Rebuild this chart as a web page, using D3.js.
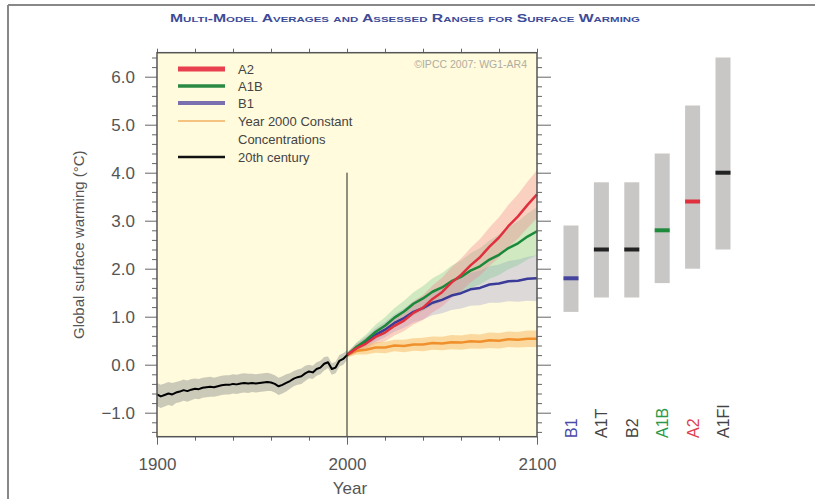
<!DOCTYPE html>
<html>
<head>
<meta charset="utf-8">
<script src="https://cdn.jsdelivr.net/npm/d3@7"></script>
<style>
  body { margin: 0; background: #fff; }
  text { font-family: "Liberation Sans", Arial, sans-serif; }
</style>
</head>
<body>
<div class="canva"></div>
<script>
// ---- data ----
const centuryYears = d3.range(1900, 2001, 2);
const centuryMean = [-0.62, -0.66, -0.63, -0.60, -0.62, -0.58, -0.56, -0.53, -0.55, -0.52,
  -0.50, -0.51, -0.48, -0.47, -0.46, -0.47, -0.45, -0.43, -0.42, -0.42,
  -0.40, -0.41, -0.39, -0.38, -0.39, -0.38, -0.39, -0.38, -0.37, -0.36,
  -0.37, -0.40, -0.45, -0.42, -0.38, -0.34, -0.29, -0.26, -0.24, -0.18,
  -0.14, -0.16, -0.09, -0.06, 0.02, 0.05, -0.09, -0.06, 0.08, 0.12, 0.20];
const centurySpread = [0.24, 0.22, 0.21, 0.20, 0.20, 0.19, 0.18, 0.16, 0.14, 0.12, 0.10];

const scenYears = d3.range(2000, 2101, 5);
const a2 = [0.20, 0.34, 0.44, 0.58, 0.67, 0.81, 0.92, 1.08, 1.19, 1.37, 1.51, 1.71, 1.87, 2.07, 2.24, 2.46, 2.65, 2.89, 3.09, 3.33, 3.55];
const a1b = [0.20, 0.37, 0.51, 0.68, 0.81, 0.98, 1.11, 1.27, 1.38, 1.52, 1.61, 1.74, 1.83, 1.96, 2.05, 2.19, 2.29, 2.43, 2.53, 2.67, 2.78];
const b1 = [0.20, 0.36, 0.47, 0.62, 0.73, 0.87, 0.97, 1.10, 1.18, 1.29, 1.35, 1.44, 1.49, 1.57, 1.60, 1.67, 1.69, 1.74, 1.75, 1.79, 1.80];
const constant = [0.20, 0.29, 0.31, 0.36, 0.36, 0.40, 0.39, 0.42, 0.42, 0.45, 0.44, 0.47, 0.46, 0.49, 0.48, 0.51, 0.50, 0.53, 0.52, 0.54, 0.54];
const scenSpread = [0.05, 0.09, 0.12, 0.15, 0.18, 0.20, 0.22, 0.24, 0.26, 0.28, 0.30, 0.32, 0.34, 0.36, 0.38, 0.40, 0.42, 0.44, 0.46, 0.48, 0.50];
const b1Spread = [0.05, 0.09, 0.12, 0.14, 0.16, 0.18, 0.20, 0.22, 0.24, 0.26, 0.28, 0.30, 0.32, 0.34, 0.36, 0.38, 0.40, 0.42, 0.44, 0.46, 0.48];
const constSpread = [0.05, 0.08, 0.10, 0.11, 0.12, 0.12, 0.13, 0.13, 0.14, 0.14, 0.14, 0.15, 0.15, 0.15, 0.15, 0.16, 0.16, 0.16, 0.16, 0.17, 0.17];

const rangeCats = ["B1", "A1T", "B2", "A1B", "A2", "A1FI"];
const rangeBest = [1.8, 2.4, 2.4, 2.8, 3.4, 4.0];
const rangeLow = [1.1, 1.4, 1.4, 1.7, 2.0, 2.4];
const rangeHigh = [2.9, 3.8, 3.8, 4.4, 5.4, 6.4];
const rangeColors = ["#44449c", "#222", "#222", "#1f8a3c", "#e0303e", "#222"];
const rangeLabelColors = ["#4a4aa8", "#444", "#444", "#2a9a4a", "#e0404e", "#444"];

const yMajor = [-1, 0, 1, 2, 3, 4, 5, 6];
const xMajor = [1900, 2000, 2100];

// ---- layout ----
const W = 815, H = 499;
const svg = d3.select(".canva").append("svg").attr("width", W).attr("height", H);

const x = d3.scaleLinear().domain([1900, 2100]).range([157, 537]);
const y = d3.scaleLinear().domain([-1.5, 6.5]).range([436.7, 52.7]);
const xr = d3.scalePoint().domain(rangeCats).range([571, 723]);

// outer frame lines
svg.append("line").attr("x1", 8).attr("x2", W).attr("y1", 5).attr("y2", 5).attr("stroke", "#888").attr("stroke-width", 2);
svg.append("line").attr("x1", 8).attr("x2", 8).attr("y1", 5).attr("y2", H).attr("stroke", "#888").attr("stroke-width", 2);

// title
svg.append("text").attr("x", 170).attr("y", 22)
  .attr("textLength", 470).attr("lengthAdjust", "spacingAndGlyphs")
  .style("font-variant", "small-caps").style("font-weight", "bold")
  .attr("font-size", 11).attr("fill", "#3e4c98")
  .text("Multi-Model Averages and Assessed Ranges for Surface Warming");

// plot background
svg.append("rect").attr("x", x(1900)).attr("y", y(6.5))
  .attr("width", x(2100) - x(1900)).attr("height", y(-1.5) - y(6.5))
  .attr("fill", "#fffbdc");

const plot = svg.append("g");

// bands
function band(years, mean, spread, color, opacity) {
  const pts = years.map((yr, i) => ({ yr, m: mean[i], s: spread[i] }));
  plot.append("path").datum(pts)
    .attr("d", d3.area().x(d => x(d.yr)).y0(d => y(d.m - d.s)).y1(d => y(d.m + d.s)))
    .attr("fill", color).attr("fill-opacity", opacity);
}
function line(years, mean, color, w) {
  plot.append("path").datum(years.map((yr, i) => ({ yr, m: mean[i] })))
    .attr("d", d3.line().x(d => x(d.yr)).y(d => y(d.m)))
    .attr("fill", "none").attr("stroke", color).attr("stroke-width", w)
    .attr("stroke-linejoin", "round");
}

band(centuryYears, centuryMean, centuryYears.map(yr => centurySpread[Math.floor((yr - 1900) / 10)]), "#8c8c8c", 0.45);
band(scenYears, b1, b1Spread, "#9a9ad2", 0.35);
band(scenYears, a1b, scenSpread, "#7cc890", 0.35);
band(scenYears, a2, scenSpread, "#f08090", 0.35);
band(scenYears, constant, constSpread, "#f8b860", 0.5);

line(scenYears, constant, "#f0902c", 2.5);
line(scenYears, b1, "#3a3a98", 2.5);
line(scenYears, a1b, "#1a8a3a", 2.5);
line(scenYears, a2, "#e0303e", 2.5);
line(centuryYears, centuryMean, "#000", 2);

// 2000 marker line
svg.append("line").attr("x1", x(2000)).attr("x2", x(2000))
  .attr("y1", y(4.0)).attr("y2", y(-1.5)).attr("stroke", "#222").attr("stroke-width", 1);

// axes
const yMinor = d3.range(-1.4, 6.5, 0.2).map(v => +v.toFixed(1)).filter(v => !yMajor.includes(v));
const xMinor = d3.range(1920, 2100, 20).filter(v => v !== 2000);

function styleAxis(g) {
  g.select(".domain").remove();
  g.selectAll("line").attr("stroke", "#666");
  g.selectAll("text").attr("fill", "#555").style("font-family", "'Liberation Sans', Arial, sans-serif");
}

svg.append("g").attr("transform", `translate(${x(1900)},0)`)
  .call(d3.axisLeft(y).tickValues(yMajor).tickSize(12).tickPadding(10).tickFormat(d3.format(".1f")))
  .call(styleAxis).selectAll("text").attr("font-size", 17);
svg.append("g").attr("transform", `translate(${x(1900)},0)`)
  .call(d3.axisLeft(y).tickValues(yMinor).tickSize(5).tickFormat(""))
  .call(styleAxis);
svg.append("g").attr("transform", `translate(${x(2100)},0)`)
  .call(d3.axisRight(y).tickValues(yMajor).tickSize(14).tickFormat(""))
  .call(styleAxis);
svg.append("g").attr("transform", `translate(${x(2100)},0)`)
  .call(d3.axisRight(y).tickValues(yMinor).tickSize(5).tickFormat(""))
  .call(styleAxis);

svg.append("g").attr("transform", `translate(0,${y(-1.5)})`)
  .call(d3.axisBottom(x).tickValues(xMajor).tickSize(8).tickPadding(13).tickFormat(d3.format("d")))
  .call(styleAxis).selectAll("text").attr("font-size", 17);
svg.append("g").attr("transform", `translate(0,${y(-1.5)})`)
  .call(d3.axisBottom(x).tickValues(xMinor).tickSize(4).tickFormat(""))
  .call(styleAxis);
svg.append("g").attr("transform", `translate(0,${y(6.5)})`)
  .call(d3.axisTop(x).tickValues(xMinor.concat(xMajor)).tickSize(4).tickFormat(""))
  .call(styleAxis);

// plot frame
svg.append("rect").attr("x", x(1900)).attr("y", y(6.5))
  .attr("width", x(2100) - x(1900)).attr("height", y(-1.5) - y(6.5))
  .attr("fill", "none").attr("stroke", "#555").attr("stroke-width", 1.5);

// axis titles
svg.append("text").attr("transform", `translate(84,${(y(6.5) + y(-1.5)) / 2}) rotate(-90)`)
  .attr("text-anchor", "middle").attr("font-size", 15).attr("fill", "#555")
  .text("Global surface warming (°C)");
svg.append("text").attr("x", x(2000) + 3).attr("y", 494)
  .attr("text-anchor", "middle").attr("font-size", 17).attr("fill", "#555").text("Year");

// copyright
svg.append("text").attr("x", 527).attr("y", 68).attr("text-anchor", "end")
  .attr("font-size", 10.5).attr("fill", "#b0aca0").text("©IPCC 2007: WG1-AR4");

// legend
const legendItems = [
  { label: "A2", color: "#e8404e", w: 5, y: 69 },
  { label: "A1B", color: "#2a8a44", w: 3.5, y: 86 },
  { label: "B1", color: "#7a70b0", w: 4, y: 103 },
  { label: "Year 2000 Constant", color: "#f0b060", w: 1.5, y: 121 },
  { label: "20th century", color: "#111", w: 2.5, y: 157 }
];
const leg = svg.append("g");
leg.selectAll("line").data(legendItems).join("line")
  .attr("x1", 178).attr("x2", 225).attr("y1", d => d.y).attr("y2", d => d.y)
  .attr("stroke", d => d.color).attr("stroke-width", d => d.w);
leg.selectAll("text").data(legendItems).join("text")
  .attr("x", 238).attr("y", d => d.y + 4.5).attr("font-size", 13).attr("fill", "#444")
  .text(d => d.label);
leg.append("text").attr("x", 238).attr("y", 143.5).attr("font-size", 13).attr("fill", "#444")
  .text("Concentrations");

// likely ranges on the right
const bw = 15;
svg.selectAll(".rbar").data(rangeCats).join("rect").attr("class", "rbar")
  .attr("x", d => xr(d) - bw / 2).attr("width", bw)
  .attr("y", (d, i) => y(rangeHigh[i])).attr("height", (d, i) => y(rangeLow[i]) - y(rangeHigh[i]))
  .attr("fill", "#c9c7c5");
svg.selectAll(".rbest").data(rangeCats).join("rect").attr("class", "rbest")
  .attr("x", d => xr(d) - bw / 2).attr("width", bw)
  .attr("y", (d, i) => y(rangeBest[i]) - 2).attr("height", 4)
  .attr("fill", (d, i) => rangeColors[i]);
svg.selectAll(".rlabel").data(rangeCats).join("text").attr("class", "rlabel")
  .attr("transform", d => `translate(${xr(d) + 6},438) rotate(-90)`)
  .attr("font-size", 16).attr("fill", (d, i) => rangeLabelColors[i])
  .text(d => d);
</script>
</body>
</html>
